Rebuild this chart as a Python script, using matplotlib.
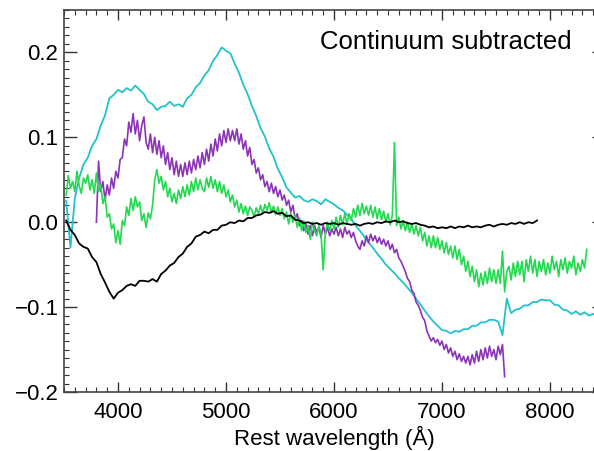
import numpy as np
import matplotlib
matplotlib.use("Agg")
import matplotlib.pyplot as plt
from matplotlib.ticker import MultipleLocator

# ---------------- data ----------------
green_wl = np.arange(3520, 8341, 20)
green_flux = [
    0.032, 0.055, 0.040, 0.048, 0.036, 0.060, 0.043, 0.034, 0.052, 0.046,
    0.056, 0.038, 0.050, 0.034, 0.058, 0.036, 0.044, 0.022, 0.030, 0.006,
    0.010, -0.008, -0.002, -0.024, -0.010, -0.026, 0.002, -0.004, 0.018, 0.008,
    0.028, 0.014, 0.030, 0.018, 0.024, 0.002, 0.010, -0.006, 0.011, 0.004,
    0.020, 0.050, 0.062, 0.046, 0.054, 0.038, 0.048, 0.030, 0.040, 0.024,
    0.034, 0.022, 0.038, 0.028, 0.042, 0.030, 0.044, 0.032, 0.048, 0.036,
    0.052, 0.038, 0.050, 0.040, 0.036, 0.052, 0.041, 0.054, 0.040, 0.050,
    0.036, 0.048, 0.034, 0.044, 0.030, 0.038, 0.024, 0.032, 0.018, 0.026,
    0.012, 0.022, 0.010, 0.019, 0.008, 0.018, 0.014, 0.006, 0.017, 0.010,
    0.020, 0.010, 0.021, 0.014, 0.023, 0.011, 0.019, 0.009, 0.018, 0.008,
    0.016, 0.004, 0.012, -0.002, 0.010, 0.000, 0.008, -0.006, 0.005, -0.010,
    0.002, -0.012, -0.004, -0.020, 0.000, -0.010, -0.016, -0.004, -0.014, -0.056,
    -0.012, 0.000, -0.010, 0.002, -0.008, 0.006, -0.006, 0.008, -0.003, 0.010,
    -0.002, 0.010, 0.002, 0.016, 0.006, 0.020, 0.008, 0.022, 0.010, 0.019,
    0.008, 0.020, 0.006, 0.018, 0.004, 0.016, 0.003, 0.013, 0.000, 0.010,
    -0.003, 0.008, 0.094, -0.004, 0.006, -0.008, 0.002, -0.010, 0.000, -0.012,
    -0.002, -0.014, -0.004, -0.016, -0.006, -0.022, -0.012, -0.028, -0.016, -0.030,
    -0.016, -0.030, -0.018, -0.032, -0.022, -0.036, -0.024, -0.038, -0.028, -0.042,
    -0.028, -0.044, -0.032, -0.050, -0.040, -0.058, -0.046, -0.064, -0.052, -0.070,
    -0.056, -0.076, -0.060, -0.074, -0.058, -0.072, -0.054, -0.070, -0.056, -0.072,
    -0.056, -0.072, -0.034, -0.082, -0.058, -0.052, -0.068, -0.048, -0.064, -0.046,
    -0.062, -0.046, -0.070, -0.044, -0.058, -0.040, -0.060, -0.044, -0.064, -0.046,
    -0.058, -0.044, -0.062, -0.048, -0.060, -0.040, -0.056, -0.046, -0.064, -0.044,
    -0.056, -0.042, -0.060, -0.046, -0.054, -0.040, -0.062, -0.048, -0.058, -0.044,
    -0.054, -0.032,
]

purple_wl = np.arange(3800, 7581, 20)
purple_flux = [
    0.000, 0.072, 0.036, 0.048, 0.026, 0.044, 0.032, 0.052, 0.040, 0.060,
    0.052, 0.074, 0.076, 0.098, 0.090, 0.118, 0.106, 0.128, 0.104, 0.120,
    0.096, 0.114, 0.124, 0.094, 0.086, 0.104, 0.082, 0.100, 0.080, 0.096,
    0.076, 0.090, 0.068, 0.082, 0.062, 0.076, 0.056, 0.072, 0.054, 0.068,
    0.054, 0.070, 0.056, 0.072, 0.058, 0.074, 0.062, 0.078, 0.064, 0.082,
    0.068, 0.086, 0.072, 0.092, 0.078, 0.098, 0.084, 0.104, 0.090, 0.108,
    0.094, 0.110, 0.096, 0.108, 0.096, 0.110, 0.092, 0.104, 0.086, 0.096,
    0.078, 0.088, 0.068, 0.074, 0.058, 0.064, 0.050, 0.056, 0.042, 0.048,
    0.036, 0.046, 0.034, 0.042, 0.030, 0.038, 0.026, 0.032, 0.020, 0.026,
    0.012, 0.020, 0.004, 0.010, -0.004, 0.002, -0.010, -0.002, -0.014, -0.004,
    -0.016, -0.004, -0.012, -0.006, -0.018, -0.004, -0.014, -0.006, -0.016, -0.008,
    -0.014, -0.006, -0.016, -0.008, -0.018, -0.006, -0.014, -0.010, -0.018, -0.012,
    -0.022, -0.028, -0.032, -0.022, -0.028, -0.016, -0.024, -0.014, -0.022, -0.016,
    -0.024, -0.018, -0.026, -0.020, -0.028, -0.022, -0.032, -0.026, -0.036, -0.032,
    -0.042, -0.046, -0.052, -0.058, -0.066, -0.070, -0.080, -0.084, -0.094, -0.098,
    -0.104, -0.112, -0.116, -0.128, -0.134, -0.140, -0.136, -0.142, -0.138, -0.145,
    -0.140, -0.150, -0.144, -0.154, -0.148, -0.158, -0.152, -0.162, -0.155, -0.164,
    -0.158, -0.166, -0.158, -0.168, -0.156, -0.166, -0.152, -0.164, -0.150, -0.162,
    -0.148, -0.160, -0.146, -0.158, -0.150, -0.162, -0.146, -0.156, -0.144, -0.182,
]

cyan_wl = np.arange(3520, 8481, 40)
cyan_flux = [
    0.025, -0.030, 0.028, 0.052, 0.068, 0.076, 0.090, 0.098, 0.114, 0.126,
    0.146, 0.150, 0.156, 0.153, 0.158, 0.155, 0.161, 0.156, 0.151, 0.142,
    0.139, 0.132, 0.136, 0.137, 0.142, 0.137, 0.139, 0.136, 0.146, 0.150,
    0.159, 0.164, 0.173, 0.179, 0.190, 0.197, 0.206, 0.202, 0.199, 0.187,
    0.176, 0.162, 0.151, 0.137, 0.125, 0.111, 0.101, 0.087, 0.077, 0.063,
    0.053, 0.041, 0.035, 0.029, 0.031, 0.026, 0.024, 0.027, 0.025, 0.021,
    0.027, 0.024, 0.021, 0.017, 0.014, 0.009, 0.004, -0.004, -0.010, -0.017,
    -0.024, -0.030, -0.037, -0.043, -0.050, -0.055, -0.060, -0.066, -0.071, -0.077,
    -0.083, -0.090, -0.097, -0.104, -0.111, -0.117, -0.122, -0.127, -0.128, -0.131,
    -0.128, -0.129, -0.126, -0.126, -0.122, -0.122, -0.118, -0.118, -0.115, -0.115,
    -0.117, -0.133, -0.090, -0.107, -0.103, -0.102, -0.098, -0.098, -0.094, -0.094,
    -0.091, -0.092, -0.092, -0.097, -0.098, -0.103, -0.104, -0.108, -0.105, -0.109,
    -0.106, -0.110, -0.108, -0.110, -0.108,
]

black_wl = np.arange(3520, 7881, 40)
black_flux = [
    0.002, -0.009, -0.015, -0.025, -0.029, -0.031, -0.041, -0.047, -0.061, -0.071,
    -0.082, -0.090, -0.083, -0.080, -0.075, -0.073, -0.075, -0.069, -0.069, -0.070,
    -0.067, -0.070, -0.061, -0.057, -0.051, -0.048, -0.041, -0.037, -0.029, -0.025,
    -0.017, -0.015, -0.011, -0.013, -0.009, -0.009, -0.004, -0.003, 0.000, -0.001,
    0.002, 0.001, 0.005, 0.005, 0.008, 0.009, 0.012, 0.011, 0.013, 0.010,
    0.011, 0.007, 0.008, 0.003, 0.002, -0.001, 0.000, -0.002, -0.001, -0.003,
    -0.001, -0.002, -0.001, -0.003, -0.001, -0.002, -0.003, -0.002, -0.004, -0.002,
    -0.001, -0.002, 0.000, -0.001, 0.001, 0.000, 0.002, 0.000, 0.001, -0.001,
    -0.002, -0.001, -0.003, -0.004, -0.006, -0.005, -0.007, -0.006, -0.007, -0.005,
    -0.007, -0.005, -0.006, -0.004, -0.006, -0.005, -0.006, -0.004, -0.003, -0.005,
    -0.003, -0.002, -0.003, -0.001, -0.002, 0.000, -0.002, 0.000, -0.001, 0.002,
]

x_ticks = [4000, 5000, 6000, 7000, 8000]
y_ticks = [-0.2, -0.1, 0.0, 0.1, 0.2]
y_tick_labels = ["\u22120.2", "\u22120.1", "0.0", "0.1", "0.2"]
annotation = "Continuum subtracted"
x_label = "Rest wavelength (\u00c5)"

# ---------------- figure ----------------
plt.rcParams['font.family'] = ['Liberation Sans', 'DejaVu Sans']
W, H = 594, 451
fig = plt.figure(figsize=(W / 100, H / 100), dpi=100)
ax = fig.add_axes([64 / W, (H - 392) / H, 540 / W, 382 / H])

ax.plot(cyan_wl, cyan_flux, color='#22C2CB', lw=1.3)
ax.plot(purple_wl, purple_flux, color='#8C34B8', lw=1.2)
ax.plot(green_wl, green_flux, color='#22D94F', lw=1.2)
ax.plot(black_wl, black_flux, color='black', lw=1.3)

ax.set_xlim(3500, 8500)
ax.set_ylim(-0.2, 0.25)
ax.set_xticks(x_ticks)
ax.set_yticks(y_ticks)
ax.set_yticklabels(y_tick_labels)
ax.xaxis.set_minor_locator(MultipleLocator(100))
ax.yaxis.set_minor_locator(MultipleLocator(0.01))
ax.tick_params(which='both', direction='in', top=True, right=True,
               colors='#333333', labelcolor='black')
ax.tick_params(which='major', length=7, width=1.0, labelsize=16)
ax.tick_params(axis='x', which='major', pad=7)
ax.tick_params(axis='y', which='major', pad=4, length=9)
ax.tick_params(which='minor', length=3.5, width=0.8)
for s in ax.spines.values():
    s.set_color('#444444')
    s.set_linewidth(1.2)

ax.set_xlabel(x_label, fontsize=16, labelpad=2)
fig.text(572 / W, (H - 49) / H, annotation, ha='right', va='baseline', fontsize=18.5)

fig.savefig('out.png', dpi=100)
